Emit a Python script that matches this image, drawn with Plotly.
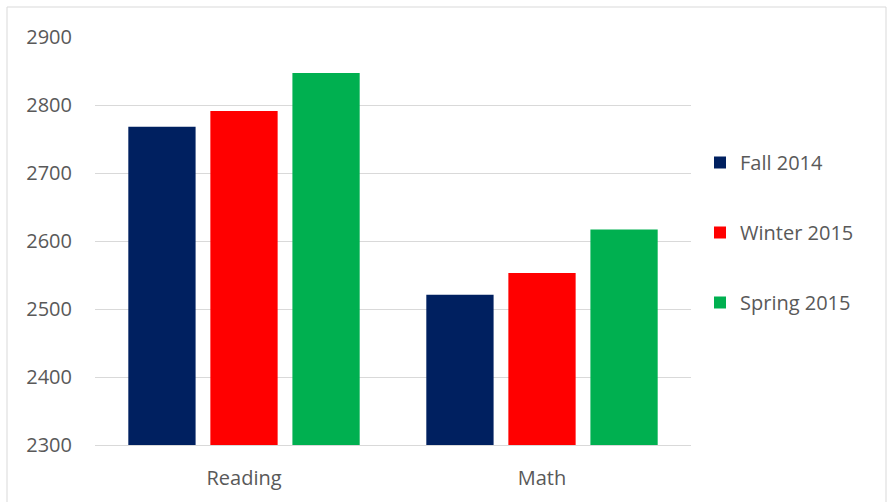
import plotly.graph_objects as go

categories = ["Reading", "Math"]
series_names = ["Fall 2014", "Winter 2015", "Spring 2015"]
fall_2014 = [2768, 2521]
winter_2015 = [2791, 2553]
spring_2015 = [2847, 2617]
colors = ["#002060", "#FF0000", "#00B050"]
y_ticks = [2300, 2400, 2500, 2600, 2700, 2800, 2900]

W, H = 889, 502
ml, mr, mt, mb = 95, 198, 37, 57

fig = go.Figure()
for name, vals, c in zip(series_names, [fall_2014, winter_2015, spring_2015], colors):
    fig.add_trace(go.Bar(name=name, x=categories, y=vals, legendgroup=name,
                         marker=dict(color=c, line=dict(width=0))))

pw = W - ml - mr
ph = H - mt - mb
def px_x(p):
    return (p - ml) / pw
def px_y(p):
    return 1 - (p - mt) / ph

fig.update_layout(
    width=W, height=H,
    margin=dict(l=ml, r=mr, t=mt, b=mb, autoexpand=False),
    paper_bgcolor="white", plot_bgcolor="white",
    barmode="group", bargap=0.174, bargroupgap=0.18,
    font=dict(family="Open Sans, Liberation Sans, sans-serif", color="#595959", size=20),
    yaxis=dict(range=[2300, 2900], tickvals=y_ticks, showgrid=True, gridcolor="#D9D9D9", gridwidth=1,
               zeroline=False, showline=False, ticks="", ticklabelstandoff=22, automargin=False,
               tickfont=dict(size=20, color="#595959")),
    xaxis=dict(showline=True, linecolor="#D9D9D9", linewidth=1, ticks="", ticklabelstandoff=15,
               automargin=False, tickfont=dict(size=20, color="#595959")),
    legend=dict(x=px_x(700), y=px_y(143), xanchor="left", yanchor="top",
                tracegroupgap=41, itemwidth=30, font=dict(size=20, color="#595959"),
                bgcolor="rgba(0,0,0,0)"),
    shapes=[dict(type="rect", xref="paper", yref="paper",
                 x0=px_x(7), x1=px_x(886), y0=px_y(7), y1=px_y(520),
                 line=dict(color="#D9D9D9", width=1), layer="below")],
)
fig.write_html("out.html")
